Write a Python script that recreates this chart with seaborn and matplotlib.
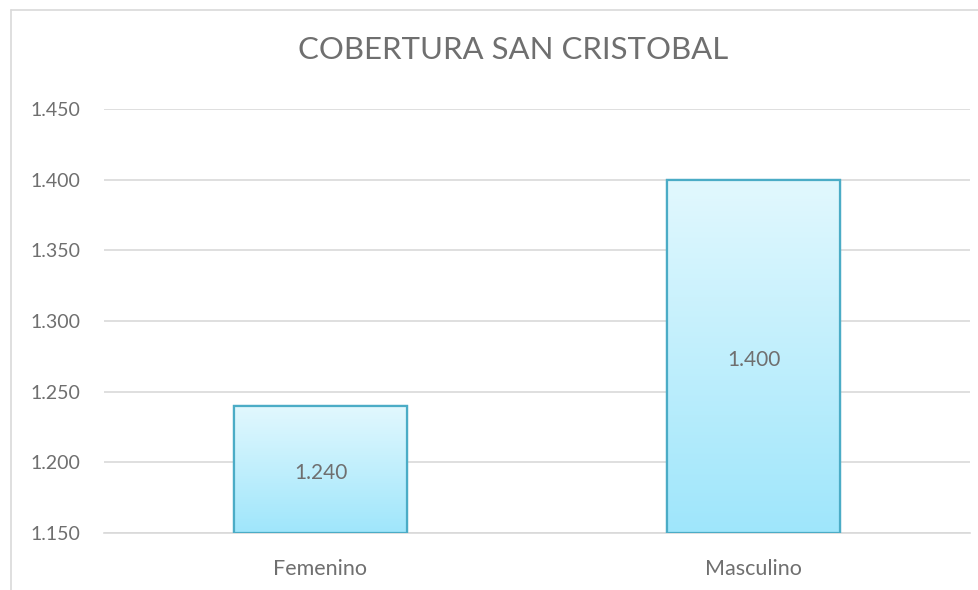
import numpy as np
import pandas as pd
import seaborn as sns
import matplotlib.pyplot as plt
from matplotlib.colors import LinearSegmentedColormap
from matplotlib.lines import Line2D

categorias = ["Femenino", "Masculino"]
valores = [1.240, 1.400]
ticks_y = [1.150, 1.200, 1.250, 1.300, 1.350, 1.400, 1.450]

sns.set_theme(style="white")
plt.rcParams['font.family'] = ['Lato', 'DejaVu Sans']

df = pd.DataFrame({"sexo": categorias, "valor": valores})
gris = "#6f6f6f"

fig = plt.figure(figsize=(9.79, 5.90), dpi=100)
ax = fig.add_axes([104/979, 1 - 533/590, (970 - 104)/979, (533 - 109)/590])

sns.barplot(data=df, x="sexo", y="valor", ax=ax, width=0.40,
            color="#c8f0fc", edgecolor="#4bacc6", linewidth=1.6, zorder=3)

ax.set_ylim(ticks_y[0], ticks_y[-1])
ax.set_yticks(ticks_y)
ax.set_yticklabels([f"{t:.3f}" for t in ticks_y])
ax.yaxis.grid(True, color="#d9d9d9", linewidth=1.2, zorder=0)
ax.set_axisbelow(True)
for s in ["top", "right", "left"]:
    ax.spines[s].set_visible(False)
ax.spines["bottom"].set_color("#d9d9d9")
ax.spines["bottom"].set_linewidth(1.2)
ax.set_xlabel("")
ax.set_ylabel("")
ax.tick_params(axis="both", colors=gris, labelsize=14, length=0)
ax.tick_params(axis="y", pad=17)
ax.tick_params(axis="x", labelsize=15.5, pad=19)

# degradado dentro de cada barra
cmap = LinearSegmentedColormap.from_list("grad", ["#9fe6fb", "#e2f8fe"])
grad = np.linspace(0, 1, 256).reshape(-1, 1)
for bar, v in zip(ax.patches, valores):
    x0 = bar.get_x()
    w = bar.get_width()
    im = ax.imshow(grad, cmap=cmap, origin="lower", aspect="auto",
                   extent=[x0, x0 + w, ticks_y[0], v], zorder=3.5)
    im.set_clip_path(bar)
    ax.add_patch(plt.Rectangle((x0, ticks_y[0]), w, v - ticks_y[0], fill=False,
                               edgecolor="#4bacc6", linewidth=1.6, zorder=4))
    ax.annotate(f"{v:.3f}", (x0 + w / 2, (ticks_y[0] + v) / 2), xytext=(0, -4),
                textcoords="offset pixels", ha="center", va="center",
                fontsize=15, color=gris, zorder=5)

ax.set_xlim(-0.5, 1.5)
ax.set_ylim(ticks_y[0], ticks_y[-1])

fig.text(513/979, 1 - 50/590, "COBERTURA SAN CRISTOBAL", ha="center", va="center",
         fontsize=22.4, color=gris)

# borde del área del gráfico
fig.add_artist(Line2D([11/979, 11/979], [0, 1 - 10/590], color="#d9d9d9", linewidth=1.2))
fig.add_artist(Line2D([11/979, 1], [1 - 10/590, 1 - 10/590], color="#d9d9d9", linewidth=1.2))

fig.savefig("out.png", dpi=100)
